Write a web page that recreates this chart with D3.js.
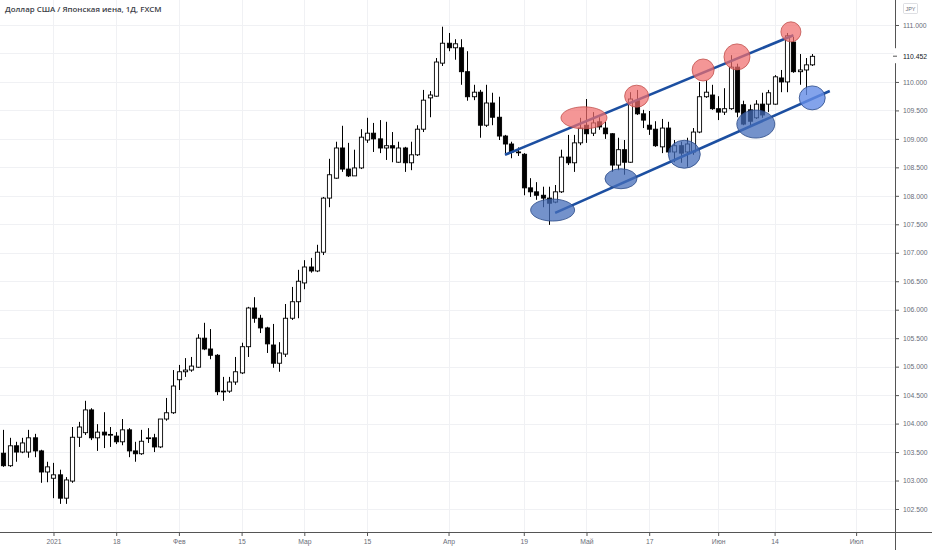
<!DOCTYPE html>
<html lang="ru">
<head>
    <meta charset="UTF-8">
    <title>USDJPY 1D</title>
    <script src="https://d3js.org/d3.v7.min.js"></script>
    <style>
        body { margin: 0; background: #fff; }
        .grid line { stroke: #f0f1f4; stroke-width: 1px; }
        .axis text { font: 6.8px "Liberation Sans", Arial, sans-serif; fill: #6a6d78; }
        .axis line { stroke: #555; }
        .axis path { display: none; }
        .wick { stroke: #000; stroke-width: 1px; }
        .body { stroke: #000; stroke-width: 0.9px; }
        .channel { stroke: #1c4fa1; stroke-width: 2.6px; }
    </style>
</head>
<body>
    <script>
        // Daily candles, trading-day index 0..129 (Dec 2020 .. 22 Jun 2021)
        const open = [103.48,103.26,103.61,103.50,103.50,103.75,103.52,103.15,103.04,103.10,
            102.69,102.99,103.76,103.84,104.24,103.75,103.85,103.80,103.78,103.68,
            103.89,103.52,103.47,103.74,103.75,103.59,104.08,104.19,104.77,104.91,
            104.94,104.99,105.50,105.31,105.20,104.56,104.57,104.73,104.89,105.35,
            106.03,105.85,105.68,105.38,105.06,105.22,105.85,106.14,106.47,106.75,
            106.68,107.01,107.96,108.31,108.84,108.47,108.35,108.49,108.98,109.10,
            109.00,108.84,108.88,108.59,108.84,108.58,108.72,109.17,109.72,109.75,
            110.33,110.68,110.60,110.60,110.18,109.74,109.82,109.24,109.63,109.38,
            109.05,108.91,108.77,108.73,108.14,108.07,108.01,107.96,107.89,108.07,
            108.68,108.58,108.93,109.24,109.10,109.30,109.19,109.09,108.54,108.81,
            108.59,109.67,109.44,109.24,109.17,108.86,109.19,108.77,108.88,108.77,
            108.77,109.12,109.74,109.77,109.53,109.47,109.53,110.26,109.60,109.51,
            109.37,109.61,109.61,109.61,110.07,110.00,110.70,110.18,110.21,110.30];
        const high = [103.89,103.75,103.68,103.75,103.89,103.82,103.54,103.33,103.31,103.19,
            103.06,103.94,104.03,104.40,104.27,103.99,104.20,103.94,103.85,104.08,
            103.92,103.68,103.89,103.92,103.82,104.08,104.45,104.94,105.03,105.15,
            105.17,105.57,105.77,105.66,105.22,104.82,104.82,105.17,105.42,106.05,
            106.22,105.91,105.70,105.75,105.43,106.10,106.40,106.70,106.87,106.91,
            107.14,107.98,108.65,108.95,109.23,108.93,108.81,109.17,109.37,109.28,
            109.33,109.30,109.12,108.95,108.86,108.95,109.24,109.86,109.84,110.42,
            110.97,110.86,110.75,110.75,110.54,109.95,109.86,109.95,109.81,109.74,
            109.07,108.95,108.85,108.75,108.31,108.24,108.16,108.16,108.19,108.81,
            109.07,109.07,109.37,109.70,109.47,109.38,109.30,109.10,109.02,108.98,
            109.82,109.86,109.51,109.49,109.31,109.35,109.30,108.98,108.95,109.02,
            109.19,110.00,110.03,109.95,109.75,109.89,110.47,110.32,109.67,109.60,
            109.68,109.81,109.86,110.12,110.21,110.86,110.79,110.49,110.42,110.49];
        const low = [103.24,103.24,103.33,103.48,103.40,103.41,102.96,102.97,102.69,102.59,
            102.59,102.96,103.59,103.80,103.71,103.52,103.57,103.59,103.64,103.62,
            103.41,103.33,103.45,103.66,103.50,103.57,104.05,104.17,104.59,104.82,
            104.91,104.98,105.29,105.13,104.50,104.40,104.54,104.68,104.87,105.17,
            105.77,105.59,105.24,104.98,104.91,105.17,105.82,105.85,106.36,106.65,
            106.66,106.96,107.80,108.30,108.42,108.33,108.35,108.47,108.93,108.77,
            108.75,108.63,108.59,108.58,108.42,108.45,108.70,109.12,109.38,109.74,
            110.28,110.54,110.39,109.95,109.67,109.68,109.02,109.21,109.24,108.98,
            108.75,108.66,108.70,108.01,107.98,107.93,107.80,107.49,107.87,108.05,
            108.54,108.42,108.89,108.93,109.05,109.16,109.00,108.42,108.45,108.37,
            108.58,109.42,109.19,109.07,108.86,108.75,108.75,108.59,108.58,108.51,
            108.72,109.10,109.72,109.51,109.33,109.42,109.51,109.38,109.24,109.24,
            109.35,109.37,109.47,109.60,109.82,109.82,110.16,109.95,109.77,110.28];
        const close = [103.26,103.61,103.50,103.66,103.75,103.52,103.15,103.24,103.10,102.69,
            103.01,103.76,103.94,104.24,103.75,103.85,103.80,103.81,103.68,103.89,
            103.52,103.47,103.69,103.75,103.59,104.08,104.19,104.66,104.91,104.94,
            105.01,105.50,105.31,105.20,104.56,104.57,104.73,104.91,105.35,106.03,
            105.85,105.68,105.40,105.06,105.24,105.85,106.14,106.50,106.75,106.68,
            107.01,107.96,108.37,108.84,108.47,108.35,108.49,109.03,109.10,109.00,
            108.84,108.88,108.84,108.84,108.58,108.72,109.17,109.68,109.77,110.35,
            110.68,110.60,110.67,110.18,109.74,109.82,109.24,109.63,109.38,109.05,
            108.91,108.77,108.76,108.14,108.07,108.01,107.96,107.87,108.07,108.68,
            108.58,108.93,109.19,109.09,109.28,109.21,109.09,108.54,108.81,108.59,
            109.70,109.44,109.33,109.17,108.88,109.19,108.77,108.88,108.75,108.91,
            109.12,109.74,109.82,109.53,109.47,109.53,110.26,109.47,109.26,109.31,
            109.61,109.42,109.81,110.09,110.00,110.81,110.18,110.21,110.30,110.45];

        // Time axis labels (trading-day index where each label sits)
        const timeTickIdx = [8, 18, 28, 38, 48, 58, 71, 83, 93, 103, 114, 123, 136];
        const timeTickLabels = ["2021", "18", "Фев", "15", "Мар", "15", "Апр", "19", "Май", "17", "Июн", "14", "Июл"];

        // Price grid levels; the label next to the last price is hidden
        const priceTicks = [102.5, 103, 103.5, 104, 104.5, 105, 105.5, 106, 106.5,
            107, 107.5, 108, 108.5, 109, 109.5, 110, 110.5, 111];
        const lastPrice = 110.452;

        // Drawn channel: [index, price] end points
        const upperLine = [[80, 108.72], [126, 110.82]];
        const lowerLine = [[88, 107.70], [131.8, 109.84]];

        // Marked touches: centre index and price
        const redMarkIdx = [92.6, 101.0, 111.6, 117.0, 125.6];
        const redMarkPrice = [109.37, 109.75, 110.21, 110.44, 110.88];
        const blueMarkIdx = [87.6, 98.5, 108.6, 120.0, 129.0];
        const blueMarkPrice = [107.75, 108.30, 108.73, 109.26, 109.72];

        const width = 932, height = 550;
        const plotW = 895, plotH = 532;
        const redRadii = [[23, 11], [12, 11], [11, 11], [13, 13], [10, 10]];
        const blueRadii = [[22, 11], [16, 10], [16, 14], [19, 14], [13, 12]];

        const candles = close.map((c, i) => ({ i, o: open[i], h: high[i], l: low[i], c }));

        const svg = d3.select("body").append("svg")
            .attr("width", width)
            .attr("height", height);

        const x = d3.scaleLinear().domain([-0.53, 142.2]).range([0, plotW]);
        const y = d3.scaleLinear().domain([102.096, 111.439]).range([plotH, 0]);
        const bw = 4.2;

        // grid
        const grid = svg.append("g").attr("class", "grid");
        grid.selectAll(".h").data(priceTicks).join("line")
            .attr("x1", 0).attr("x2", plotW)
            .attr("y1", d => Math.round(y(d)) + 0.5).attr("y2", d => Math.round(y(d)) + 0.5);
        grid.selectAll(".v").data(timeTickIdx).join("line")
            .attr("x1", d => Math.round(x(d)) + 0.5).attr("x2", d => Math.round(x(d)) + 0.5)
            .attr("y1", 0).attr("y2", plotH);

        // title
        svg.append("text")
            .attr("x", 5).attr("y", 12)
            .style("font", "600 7.9px 'Open Sans', sans-serif")
            .style("fill", "#3a3d46")
            .text("Доллар США / Японская иена, 1Д, FXCM");

        const plot = svg.append("g");

        // candles
        const cg = plot.selectAll(".candle").data(candles).join("g").attr("class", "candle");
        cg.append("line").attr("class", "wick")
            .attr("x1", d => Math.round(x(d.i)) + 0.5).attr("x2", d => Math.round(x(d.i)) + 0.5)
            .attr("y1", d => y(d.h)).attr("y2", d => y(d.l));
        cg.append("rect").attr("class", "body")
            .attr("x", d => Math.round(x(d.i)) + 0.5 - bw / 2)
            .attr("width", bw)
            .attr("y", d => y(Math.max(d.o, d.c)))
            .attr("height", d => Math.max(0.8, Math.abs(y(d.o) - y(d.c))))
            .attr("fill", d => d.c >= d.o ? "#fff" : "#000");

        // channel
        const line = d3.line().x(d => x(d[0])).y(d => y(d[1]));
        plot.append("path").attr("class", "channel").attr("d", line(upperLine));
        plot.append("path").attr("class", "channel").attr("d", line(lowerLine));

        // ellipses
        plot.selectAll(".red").data(redMarkIdx).join("ellipse")
            .attr("cx", d => x(d)).attr("cy", (d, i) => y(redMarkPrice[i]))
            .attr("rx", (d, i) => redRadii[i][0]).attr("ry", (d, i) => redRadii[i][1])
            .attr("fill", "rgba(240,110,110,0.72)").attr("stroke", "#c0504d").attr("stroke-width", 0.8);
        plot.selectAll(".blue").data(blueMarkIdx).join("ellipse")
            .attr("cx", d => x(d)).attr("cy", (d, i) => y(blueMarkPrice[i]))
            .attr("rx", (d, i) => blueRadii[i][0]).attr("ry", (d, i) => blueRadii[i][1])
            .attr("fill", (d, i) => i === 4 ? "rgba(100,140,230,0.8)" : "rgba(70,110,185,0.75)")
            .attr("stroke", "#2b4a86").attr("stroke-width", 0.8);

        // axes
        const labelTicks = priceTicks.filter(d => Math.abs(y(d) - y(lastPrice)) > 8);
        svg.append("g").attr("class", "axis")
            .attr("transform", `translate(${plotW},0)`)
            .call(d3.axisRight(y).tickValues(labelTicks).tickSize(4).tickPadding(4)
                .tickFormat(d3.format(".3f")));
        svg.append("g").attr("class", "axis")
            .attr("transform", `translate(0,${plotH})`)
            .call(d3.axisBottom(x).tickValues(timeTickIdx).tickSize(4).tickPadding(3)
                .tickFormat((d, i) => timeTickLabels[i]));

        svg.append("line").attr("x1", plotW + 0.5).attr("x2", plotW + 0.5)
            .attr("y1", 0).attr("y2", height).attr("stroke", "#555");
        svg.append("line").attr("x1", 0).attr("x2", width)
            .attr("y1", plotH + 0.5).attr("y2", plotH + 0.5).attr("stroke", "#555");

        // last price
        const ly = y(lastPrice);
        svg.append("rect").attr("x", plotW - 1).attr("y", ly - 8).attr("width", 37).attr("height", 15).attr("fill", "#fff");
        svg.append("line").attr("x1", plotW - 2).attr("x2", plotW + 2)
            .attr("y1", ly).attr("y2", ly).attr("stroke", "#555");
        svg.append("text").attr("x", plotW + 8).attr("y", ly + 2.5)
            .style("font", "6.8px 'Liberation Sans', Arial, sans-serif").style("fill", "#131722")
            .text(d3.format(".3f")(lastPrice));

        // currency box
        svg.append("rect").attr("x", 903.5).attr("y", 3.5).attr("width", 14).attr("height", 10)
            .attr("fill", "#fff").attr("stroke", "#c8cad0").attr("stroke-width", 0.6).attr("rx", 1);
        svg.append("text").attr("x", 910.5).attr("y", 10.5).attr("text-anchor", "middle")
            .style("font", "5.5px 'Liberation Sans', Arial, sans-serif").style("fill", "#6a6d78")
            .text("JPY");
    </script>
</body>
</html>
